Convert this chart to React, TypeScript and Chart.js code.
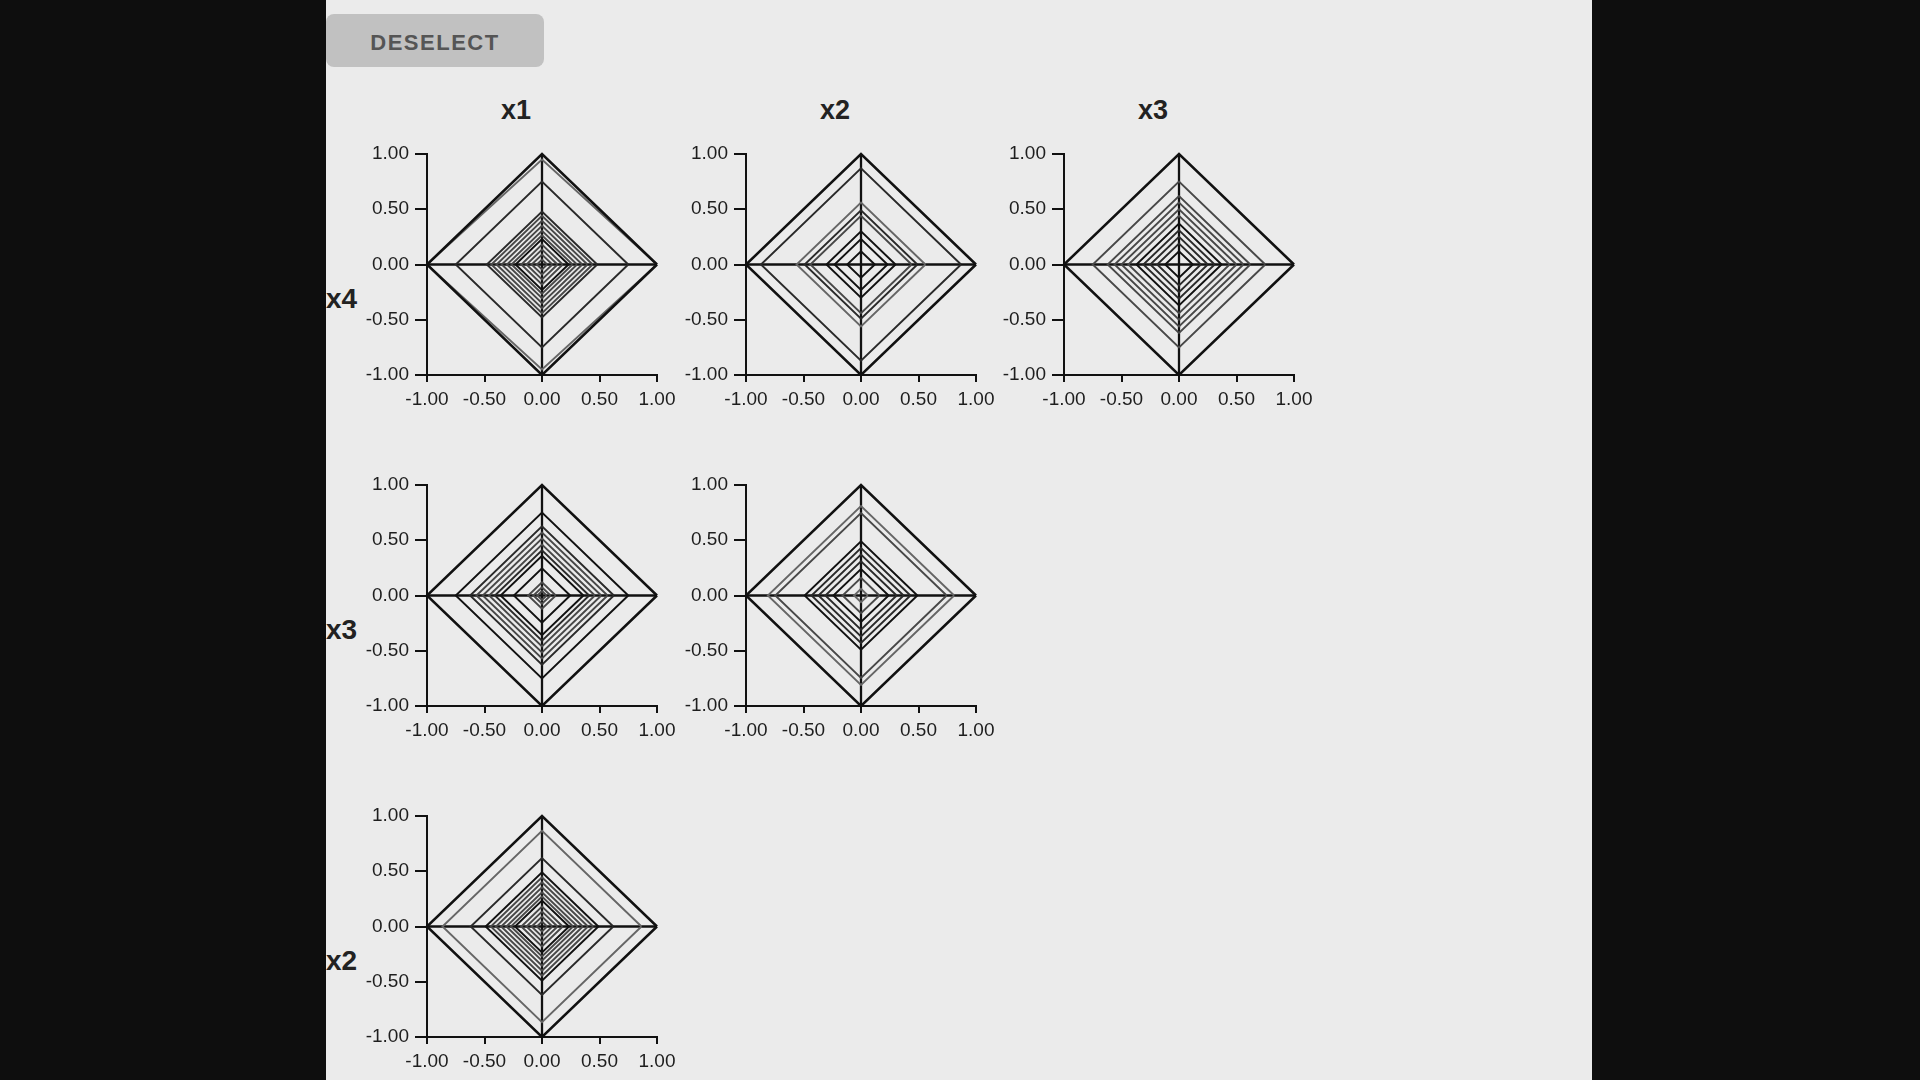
import React, { useEffect, useRef } from 'react';
import { Chart, registerables } from 'chart.js';

Chart.register(...registerables);

const FONT = "'Liberation Sans', Arial, Helvetica, sans-serif";

// variable names
const COLUMN_VARS = ['x1', 'x2', 'x3'];
const ROW_VARS = ['x4', 'x3', 'x2'];
const TICK_VALUES = [-1, -0.5, 0, 0.5, 1];
const BUTTON_LABEL = 'DESELECT';

// each diamond: [x-radius, y-radius]
const X1_X4 = [[1, 1], [1, 0.95], [0.75, 0.75], [0.48, 0.48], [0.44, 0.44], [0.395, 0.395], [0.35, 0.35], [0.305, 0.305], [0.265, 0.265], [0.23, 0.23], [0.18, 0.18], [0.135, 0.135], [0.09, 0.09], [0.045, 0.045]];
const X1_X4_TONE = [0, 3, 1, 1, 2, 2, 2, 2, 2, 0, 2, 2, 2, 2];

const X2_X4 = [[1, 1], [0.87, 0.87], [0.56, 0.56], [0.49, 0.49], [0.44, 0.44], [0.3, 0.3], [0.23, 0.23], [0.12, 0.12]];
const X2_X4_TONE = [0, 1, 3, 1, 2, 0, 0, 0];

const X3_X4 = [[1, 1], [0.75, 0.75], [0.62, 0.62], [0.56, 0.56], [0.5, 0.5], [0.44, 0.44], [0.37, 0.37], [0.31, 0.31], [0.25, 0.25], [0.19, 0.19], [0.12, 0.12]];
const X3_X4_TONE = [0, 2, 2, 2, 2, 2, 0, 1, 1, 1, 0];

const X1_X3 = [[1, 1], [0.75, 0.75], [0.625, 0.625], [0.57, 0.57], [0.515, 0.515], [0.46, 0.46], [0.41, 0.41], [0.36, 0.36], [0.245, 0.245], [0.12, 0.12], [0.075, 0.075], [0.04, 0.04]];
const X1_X3_TONE = [0, 0, 1, 2, 2, 2, 1, 0, 0, 2, 2, 2];

const X2_X3 = [[1, 1], [0.81, 0.81], [0.745, 0.745], [0.49, 0.49], [0.43, 0.43], [0.37, 0.37], [0.31, 0.31], [0.24, 0.24], [0.16, 0.16], [0.06, 0.06]];
const X2_X3_TONE = [0, 3, 2, 0, 1, 1, 1, 0, 2, 3];

const X1_X2 = [[1, 1], [0.865, 0.865], [0.62, 0.62], [0.49, 0.49], [0.445, 0.445], [0.4, 0.4], [0.355, 0.355], [0.31, 0.31], [0.27, 0.27], [0.235, 0.235], [0.18, 0.18], [0.135, 0.135], [0.09, 0.09], [0.045, 0.045]];
const X1_X2_TONE = [0, 3, 1, 0, 2, 2, 2, 2, 2, 0, 2, 2, 2, 2];

const CELLS = [
  { row: 0, col: 0, shapes: X1_X4, tones: X1_X4_TONE },
  { row: 0, col: 1, shapes: X2_X4, tones: X2_X4_TONE },
  { row: 0, col: 2, shapes: X3_X4, tones: X3_X4_TONE },
  { row: 1, col: 0, shapes: X1_X3, tones: X1_X3_TONE },
  { row: 1, col: 1, shapes: X2_X3, tones: X2_X3_TONE },
  { row: 2, col: 0, shapes: X1_X2, tones: X1_X2_TONE },
];

// layout
const TONE_COLORS = ['#111111', '#2a2a2a', '#484848', '#666666'];
const PLOT_LEFT = [427, 746, 1064];
const PLOT_TOP = [154, 485, 816];
const PLOT_W = 230;
const PLOT_H = 221;
const PAD_L = 20;
const PAD_T = 20;
const PAD_R = 35;
const Y_AXIS_W = 70;
const X_AXIS_H = 45;
const CANVAS_W = PAD_L + Y_AXIS_W + PLOT_W + PAD_R;
const CANVAS_H = PAD_T + PLOT_H + X_AXIS_H;

type Shape = number[];

function Panel({ shapes, tones, left, top }: { shapes: Shape[]; tones: number[]; left: number; top: number }) {
  const ref = useRef<HTMLCanvasElement>(null);
  useEffect(() => {
    if (!ref.current) return;
    const datasets: any[] = shapes.map(([a, b], i) => ({
      data: [
        { x: a, y: 0 },
        { x: 0, y: b },
        { x: -a, y: 0 },
        { x: 0, y: -b },
        { x: a, y: 0 },
      ],
      showLine: true,
      borderColor: TONE_COLORS[tones[i]],
      borderWidth: i === 0 ? 2.5 : 1.9,
      borderJoinStyle: 'miter',
      pointRadius: 0,
      pointHoverRadius: 0,
      fill: false,
      tension: 0,
      clip: false,
    }));
    const axisLine = (pts: { x: number; y: number }[]) => ({
      data: pts,
      showLine: true,
      borderColor: '#111111',
      borderWidth: 2.3,
      pointRadius: 0,
      fill: false,
      tension: 0,
      clip: false,
    });
    datasets.push(axisLine([{ x: TICK_VALUES[0], y: 0 }, { x: TICK_VALUES[TICK_VALUES.length - 1], y: 0 }]));
    datasets.push(axisLine([{ x: 0, y: TICK_VALUES[0] }, { x: 0, y: TICK_VALUES[TICK_VALUES.length - 1] }]));

    const tickFont = { family: FONT, size: 19 };
    const buildTicks = (s: any) => {
      s.ticks = TICK_VALUES.map((v) => ({ value: v }));
    };
    const chart = new Chart(ref.current, {
      type: 'scatter',
      data: { datasets },
      options: {
        animation: false,
        responsive: false,
        maintainAspectRatio: false,
        events: [],
        layout: { padding: { left: PAD_L, top: PAD_T, right: PAD_R, bottom: 0 } },
        plugins: { legend: { display: false }, tooltip: { enabled: false }, title: { display: false } },
        scales: {
          x: {
            type: 'linear',
            min: TICK_VALUES[0],
            max: TICK_VALUES[TICK_VALUES.length - 1],
            afterBuildTicks: buildTicks,
            afterFit: (s: any) => {
              s.height = X_AXIS_H;
            },
            ticks: {
              callback: (v: any) => Number(v).toFixed(2),
              color: '#1e1e1e',
              font: tickFont,
              padding: 6,
              maxRotation: 0,
              autoSkip: false,
            },
            grid: { drawOnChartArea: false, drawTicks: true, tickLength: 7, color: '#111111', lineWidth: 2 },
            border: { display: true, color: '#111111', width: 2 },
          },
          y: {
            type: 'linear',
            min: TICK_VALUES[0],
            max: TICK_VALUES[TICK_VALUES.length - 1],
            afterBuildTicks: buildTicks,
            afterFit: (s: any) => {
              s.width = Y_AXIS_W;
            },
            ticks: {
              callback: (v: any) => Number(v).toFixed(2),
              color: '#1e1e1e',
              font: tickFont,
              padding: 6,
              autoSkip: false,
            },
            grid: { drawOnChartArea: false, drawTicks: true, tickLength: 12, color: '#111111', lineWidth: 2 },
            border: { display: true, color: '#111111', width: 2 },
          },
        },
      } as any,
    });
    return () => chart.destroy();
  }, [shapes, tones]);
  return (
    <canvas
      ref={ref}
      width={CANVAS_W}
      height={CANVAS_H}
      style={{
        position: 'absolute',
        left: left - PAD_L - Y_AXIS_W,
        top: top - PAD_T,
        width: CANVAS_W,
        height: CANVAS_H,
      }}
    />
  );
}

export default function App() {
  return (
    <div style={{ position: 'fixed', left: 0, top: 0, width: 1920, height: 1080, background: '#0e0e0e', overflow: 'hidden' }}>
      <div style={{ position: 'absolute', left: 326, top: 0, width: 1266, height: 1080, background: '#ebebeb' }} />
      <div
        style={{
          position: 'absolute',
          left: 326,
          top: 14,
          width: 218,
          height: 53,
          background: '#c1c1c1',
          borderRadius: 8,
          color: '#555',
          fontFamily: FONT,
          fontWeight: 700,
          fontSize: 22,
          letterSpacing: 1.5,
          display: 'flex',
          alignItems: 'center',
          justifyContent: 'center',
          paddingTop: 4,
          boxSizing: 'border-box',
        }}
      >
        {BUTTON_LABEL}
      </div>
      {COLUMN_VARS.map((name, c) => (
        <div
          key={'t' + name}
          style={{
            position: 'absolute',
            left: PLOT_LEFT[c] + 89,
            top: 97,
            transform: 'translateX(-50%)',
            fontFamily: FONT,
            fontWeight: 700,
            fontSize: 27,
            lineHeight: '27px',
            color: '#222',
          }}
        >
          {name}
        </div>
      ))}
      {ROW_VARS.map((name, r) => (
        <div
          key={'r' + name}
          style={{
            position: 'absolute',
            left: 326,
            top: PLOT_TOP[r] + 145 - 14,
            fontFamily: FONT,
            fontWeight: 700,
            fontSize: 28,
            lineHeight: '28px',
            color: '#222',
          }}
        >
          {name}
        </div>
      ))}
      {CELLS.map((cell) => (
        <Panel
          key={cell.row + '-' + cell.col}
          shapes={cell.shapes}
          tones={cell.tones}
          left={PLOT_LEFT[cell.col]}
          top={PLOT_TOP[cell.row]}
        />
      ))}
    </div>
  );
}
